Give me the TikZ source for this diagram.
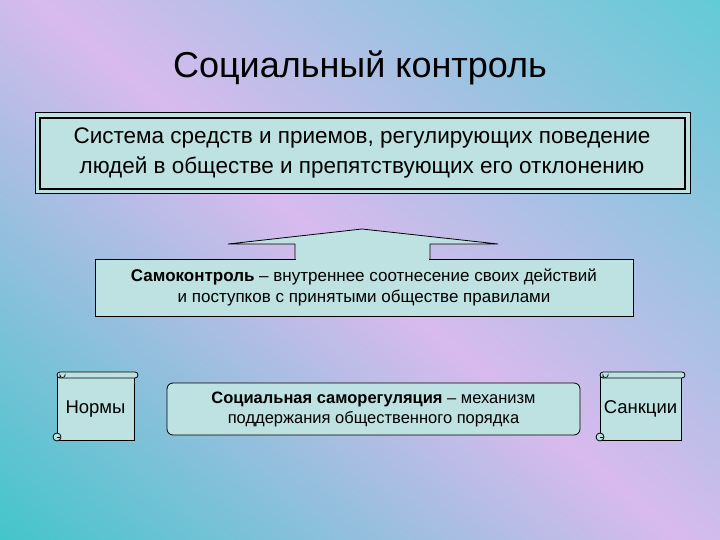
\documentclass[tikz,border=0pt]{standalone}
\usepackage{fontspec}
\setmainfont{Liberation Sans}
\definecolor{boxc}{HTML}{BEE2E2}
\definecolor{cyanA}{HTML}{3CC6C8}
\definecolor{violA}{HTML}{D8BAEE}
\definecolor{cyanB}{HTML}{5CCCD4}
\begin{document}
\begin{tikzpicture}[x=1pt,y=-1pt,
  panel/.style={draw=black,fill=boxc,line width=0.8pt},
  lbl/.style={align=center}]
\useasboundingbox (0,0) rectangle (720,540);
\begin{scope}[yscale=-1]
\shade[bottom color=cyanA,top color=cyanB,middle color=violA,shading angle=-40] (-150,-690) rectangle (870,150);
\end{scope}
\node[font=\fontsize{36}{42}\selectfont] (title) at (360,68) {Социальный контроль};
% top box with double border
\draw[line width=1pt,fill=boxc] (35,113) rectangle (690,194);
\draw[line width=1.6pt] (40,118) rectangle (685,189);
\node[lbl,font=\fontsize{22.5}{30}\selectfont] (def) at (362,153) {Система средств и приемов, регулирующих поведение\\людей в обществе и препятствующих его отклонению};
% arrow
\draw[panel] (295,259) -- (295,244) -- (228,244) -- (362,229) -- (498,244) -- (430,244) -- (430,259);
\node[panel,minimum width=538pt,minimum height=57pt,inner sep=0pt] (self) at (364,287.5) {};
\fill[boxc] (296,258) rectangle (429,261);
\node[lbl,font=\fontsize{17}{21}\selectfont] (selft) at (364,287.5) {\textbf{Самоконтроль} – внутреннее соотнесение своих действий\\и поступков с принятыми обществе правилами};
% middle
\node[panel,rounded corners=6pt,minimum width=413pt,minimum height=52pt,inner sep=0pt] (reg) at (373.5,409) {};
\node[lbl,font=\fontsize{16.5}{20}\selectfont] (regt) at (373.5,409) {\textbf{Социальная саморегуляция} – механизм\\поддержания общественного порядка};
% scrolls
\foreach \n/\xa/\xb/\t in {norm/57/138/Нормы,sanc/600/685/Санкции}{
  \draw[panel] (\xa,376) -- (\xb-4,376) -- (\xb-4,440) -- (\xa,440) -- cycle;
  \draw[panel,rounded corners=3pt] (\xa,372) rectangle (\xb,378);
  \draw[line width=0.6pt] (\xa+3,378) -- (\xa+3,375) arc(180:0:2.5) -- (\xa+8,376);
  \draw[panel] (\xa,437) circle (4);
  \draw[line width=0.6pt] (\xa,437) -- (\xa+3,437);
  \node[font=\fontsize{18.5}{22}\selectfont] (\n) at ({(\xa+\xb)/2-2},409) {\t};
}
\end{tikzpicture}
\end{document}
